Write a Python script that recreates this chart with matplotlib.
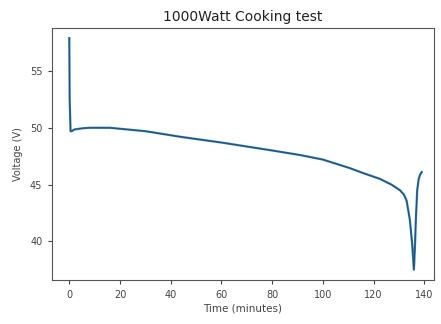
import matplotlib
matplotlib.use("Agg")
import matplotlib.pyplot as plt

time_min = [0, 0.15, 0.5, 1.0, 2.0, 5.0, 8.0, 16, 30, 44, 60, 80, 91, 100, 110.6, 116, 122.5, 127, 130.4, 132, 133, 134.3, 135.2, 135.9, 136.3, 136.7, 137.2, 137.8, 138.4, 139]
voltage = [57.9, 52.5, 49.7, 49.7, 49.85, 49.95, 50.0, 50.0, 49.7, 49.2, 48.7, 48.0, 47.6, 47.2, 46.45, 46.0, 45.5, 45.0, 44.5, 44.1, 43.6, 41.9, 39.8, 37.5, 39.5, 42.1, 44.5, 45.5, 45.9, 46.1]

title = "1000Watt Cooking test"
xlabel = "Time (minutes)"
ylabel = "Voltage (V)"

fig = plt.figure(figsize=(4.41, 3.24), dpi=100)
ax = fig.add_axes([0.118, 0.136, 0.866, 0.778])
ax.plot(time_min, voltage, color="#2a7ab0", lw=1.6)
ax.plot(time_min, voltage, color="#2a3440", lw=0.6, alpha=0.7)
ax.set_xlim(-6.8, 143.8)
ax.set_ylim(36.6, 58.8)
ax.set_xticks([0, 20, 40, 60, 80, 100, 120, 140])
ax.set_yticks([40, 45, 50, 55])
ax.tick_params(labelsize=7, length=3, colors="#444444", pad=4)
ax.set_title(title, fontsize=10, color="#222222", pad=5)
ax.set_xlabel(xlabel, fontsize=7.5, labelpad=3, color="#444444")
ax.set_ylabel(ylabel, fontsize=7, labelpad=5, color="#444444")
for s in ax.spines.values():
    s.set_color("#555555")
fig.savefig("out.png", dpi=100)
